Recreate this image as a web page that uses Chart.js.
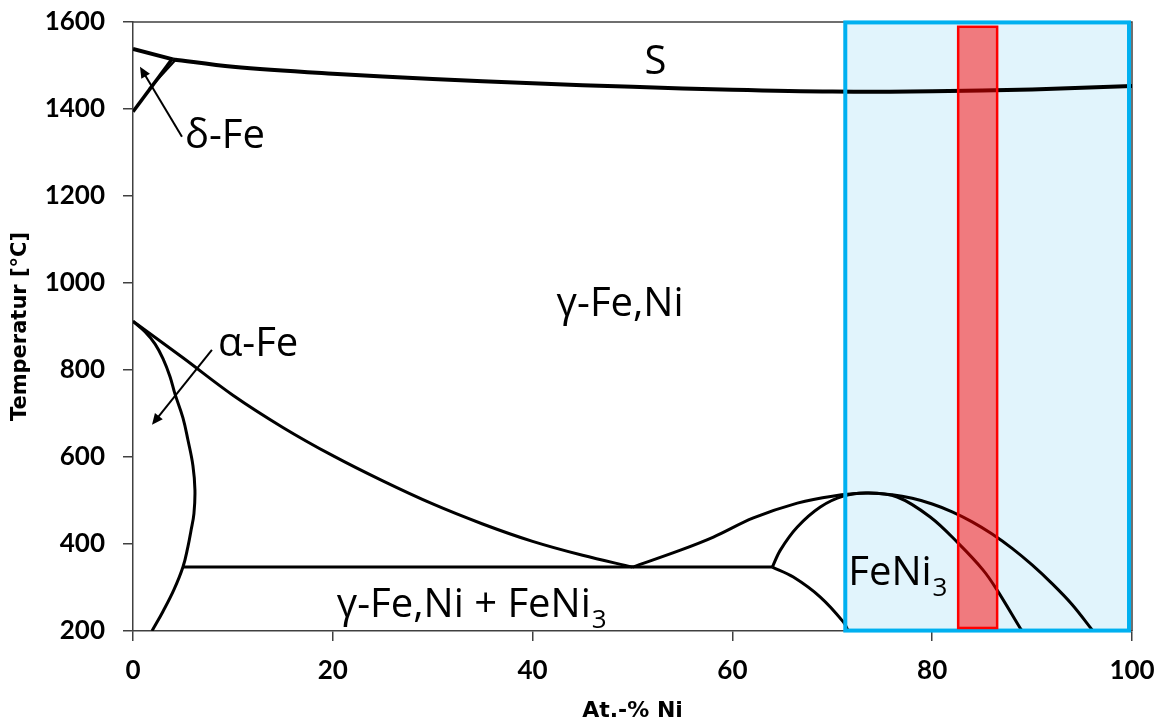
<!DOCTYPE html>
<html><head><meta charset="utf-8">
<script src="https://cdn.jsdelivr.net/npm/chart.js@4/dist/chart.umd.min.js"></script>
<style>html,body{margin:0;padding:0;background:#fff;overflow:hidden}canvas{display:block}</style>
</head><body>
<canvas id="c" width="1161" height="722"></canvas>
<script>
// ---- axis ticks ----
const xTicks = [0, 20, 40, 60, 80, 100];
const yTicks = [200, 400, 600, 800, 1000, 1200, 1400, 1600];

// ---- phase boundary curves (At.-% Ni, °C) ----
const liqLeftX = [0, 4.0];
const liqLeftT = [1538, 1514];
const liqX = [4.0, 10, 20, 30, 40, 50, 60, 70, 80, 90, 100];
const liqT = [1514, 1497, 1481, 1469, 1459, 1451, 1444, 1440, 1441, 1445, 1453];
const deltaAX = [0, 3.9];
const deltaAT = [1394, 1514];
const deltaBX = [1.6, 4.4];
const deltaBT = [1446, 1516];
const gammaX = [0, 5, 10, 15, 20, 25, 30, 35, 40, 45, 50];
const gammaT = [912, 828, 742, 668, 603, 545, 492, 446, 406, 374, 347];
const alphaX = [0, 1.2, 2.2, 3.0, 3.7, 4.2, 5.0, 5.5, 6.0, 6.2, 6.1, 5.8, 5.5, 5.0, 4.1, 3.0, 1.9];
const alphaT = [912, 888, 860, 826, 785, 745, 690, 639, 580, 524, 470, 430, 394, 347, 295, 245, 200];
const eutX = [5.0, 64];
const eutT = [347, 347];
const outerX = [50, 54.8, 58.1, 62.1, 66.5, 70, 73.5, 76, 78, 80, 82, 84, 86, 88, 90, 92, 94, 96.1];
const outerT = [347, 386, 416, 460, 494, 510, 517, 513, 505, 492, 474, 451, 423, 390, 352, 309, 261, 200];
const innerX = [64, 64.8, 66.5, 68.8, 71.1, 73.5, 76.5, 79.8, 82.6, 85.1, 86.5, 88.8, 89.0];
const innerT = [347, 386, 439, 485, 510, 517, 508, 462, 402, 340, 294, 207, 200];
const lowerX = [64, 66.1, 68.8, 71.1, 71.6];
const lowerT = [347, 324, 278, 221, 200];

// ---- highlighted regions [xMin, xMax, yMin, yMax] ----
const blueBox = [71.3, 99.7, 201, 1599];
const redBox = [82.6, 86.5, 207, 1589];

// ---- arrows [x0, y0, x1, y1] ----
const deltaArrow = [4.9, 1336, 0.7, 1497];
const alphaArrow = [7.9, 846, 1.9, 674];

// ---- region labels ----
const regionText = [
  {parts: [['S', false]], x: 51.2, y: 1480},
  {parts: [['δ-Fe', false]], x: 5.2, y: 1310},
  {parts: [['γ-Fe,Ni', false]], x: 42.4, y: 924},
  {parts: [['α-Fe', false]], x: 8.5, y: 832},
  {parts: [['γ-Fe,Ni + FeNi', false], ['3', true]], x: 20.4, y: 232},
  {parts: [['FeNi', false], ['3', true]], x: 71.6, y: 306}
];

function pts(xs, ys) { return xs.map((x, i) => ({x: x, y: ys[i]})); }
const curves = [
  {x: liqLeftX, y: liqLeftT, w: 4, t: 0},
  {x: liqX, y: liqT, w: 4, t: 0.35},
  {x: deltaAX, y: deltaAT, w: 3.5, t: 0},
  {x: deltaBX, y: deltaBT, w: 2, t: 0},
  {x: gammaX, y: gammaT, w: 3, t: 0.35},
  {x: alphaX, y: alphaT, w: 3, t: 0.4},
  {x: eutX, y: eutT, w: 3, t: 0},
  {x: outerX, y: outerT, w: 3, t: 0.35},
  {x: innerX, y: innerT, w: 3, t: 0.35},
  {x: lowerX, y: lowerT, w: 3, t: 0.35}
];

const AXC = '#404040';

const overlay = {
  id: 'overlay',
  beforeDatasetsDraw(chart) {
    const {ctx, chartArea: a, scales: {x, y}} = chart;
    ctx.save();
    ctx.strokeStyle = AXC; ctx.lineWidth = 1.5;
    ctx.beginPath();
    ctx.moveTo(a.left, a.top); ctx.lineTo(a.right, a.top); ctx.lineTo(a.right, a.bottom);
    ctx.stroke();
    const bx0 = x.getPixelForValue(blueBox[0]), bx1 = x.getPixelForValue(blueBox[1]);
    const by0 = y.getPixelForValue(blueBox[3]), by1 = y.getPixelForValue(blueBox[2]);
    ctx.fillStyle = '#E1F4FC';
    ctx.fillRect(bx0, by0, bx1 - bx0, by1 - by0);
    ctx.restore();
  },
  afterDatasetsDraw(chart) {
    const {ctx, scales: {x, y}} = chart;
    ctx.save();
    const bx0 = x.getPixelForValue(blueBox[0]), bx1 = x.getPixelForValue(blueBox[1]);
    const by0 = y.getPixelForValue(blueBox[3]), by1 = y.getPixelForValue(blueBox[2]);
    ctx.strokeStyle = '#00B0F0'; ctx.lineWidth = 4;
    ctx.strokeRect(bx0, by0, bx1 - bx0, by1 - by0);
    const rx0 = x.getPixelForValue(redBox[0]), rx1 = x.getPixelForValue(redBox[1]);
    const ry0 = y.getPixelForValue(redBox[3]), ry1 = y.getPixelForValue(redBox[2]);
    ctx.fillStyle = 'rgba(255,0,0,0.5)';
    ctx.fillRect(rx0, ry0, rx1 - rx0, ry1 - ry0);
    ctx.strokeStyle = '#FF0000'; ctx.lineWidth = 2.5;
    ctx.strokeRect(rx0, ry0, rx1 - rx0, ry1 - ry0);
    [deltaArrow, alphaArrow].forEach(ar => {
      const x0 = x.getPixelForValue(ar[0]), y0 = y.getPixelForValue(ar[1]);
      const x1 = x.getPixelForValue(ar[2]), y1 = y.getPixelForValue(ar[3]);
      const ang = Math.atan2(y1 - y0, x1 - x0);
      const hl = 11, hw = 5;
      ctx.strokeStyle = '#000'; ctx.lineWidth = 2;
      ctx.beginPath(); ctx.moveTo(x0, y0);
      ctx.lineTo(x1 - Math.cos(ang) * hl * 0.8, y1 - Math.sin(ang) * hl * 0.8); ctx.stroke();
      ctx.fillStyle = '#000';
      ctx.beginPath();
      ctx.moveTo(x1, y1);
      ctx.lineTo(x1 - Math.cos(ang) * hl + Math.sin(ang) * hw, y1 - Math.sin(ang) * hl - Math.cos(ang) * hw);
      ctx.lineTo(x1 - Math.cos(ang) * hl - Math.sin(ang) * hw, y1 - Math.sin(ang) * hl + Math.cos(ang) * hw);
      ctx.closePath(); ctx.fill();
    });
    ctx.fillStyle = '#000';
    ctx.textBaseline = 'alphabetic'; ctx.textAlign = 'left';
    regionText.forEach(l => {
      let px = x.getPixelForValue(l.x);
      const py = y.getPixelForValue(l.y);
      l.parts.forEach(([t, sub]) => {
        ctx.font = sub ? '26px "Open Sans"' : '40px "Open Sans"';
        ctx.fillText(t, px + (sub ? 1 : 0), py + (sub ? 11 : 0));
        px += ctx.measureText(t).width + (sub ? 1 : 0);
      });
    });
    ctx.restore();
  }
};

new Chart(document.getElementById('c'), {
  type: 'scatter',
  data: {
    datasets: curves.map(c => ({
      data: pts(c.x, c.y), showLine: true, borderColor: '#000', backgroundColor: '#000',
      borderWidth: c.w, pointRadius: 0, tension: c.t, fill: false
    }))
  },
  options: {
    responsive: false, animation: false,
    layout: {padding: {top: 22, right: 29, left: 0, bottom: 0}},
    plugins: {legend: {display: false}, tooltip: {enabled: false}},
    scales: {
      x: {
        type: 'linear', min: 0, max: 100,
        afterBuildTicks: s => { s.ticks = xTicks.map(v => ({value: v})); },
        afterFit: s => { s.height = 91; s.paddingLeft = 0; s.paddingRight = 0; },
        ticks: {font: {family: 'Lato', weight: 'bold', size: 26}, color: '#000', padding: 14, maxRotation: 0,
          callback: v => String(v)},
        grid: {drawOnChartArea: false, tickLength: 10, color: AXC, lineWidth: 1.5},
        border: {color: AXC, width: 1.5},
        title: {display: true, text: 'At.-% Ni', color: '#000',
          font: {family: 'DejaVu Sans', weight: 'bold', size: 22, lineHeight: 1}, padding: {top: 0, bottom: 0}}
      },
      y: {
        type: 'linear', min: 200, max: 1600,
        afterBuildTicks: s => { s.ticks = yTicks.map(v => ({value: v})); },
        afterFit: s => { s.width = 133; s.paddingTop = 0; s.paddingBottom = 0; },
        ticks: {font: {family: 'Lato', weight: 'bold', size: 26}, color: '#000', padding: 18,
          callback: v => String(v)},
        grid: {drawOnChartArea: false, tickLength: 10, color: AXC, lineWidth: 1.5},
        border: {color: AXC, width: 1.5},
        title: {display: true, text: 'Temperatur [°C]', color: '#000',
          font: {family: 'DejaVu Sans', weight: 'bold', size: 21}, padding: {top: 8, bottom: 0}}
      }
    }
  },
  plugins: [overlay]
});
</script>
</body></html>
